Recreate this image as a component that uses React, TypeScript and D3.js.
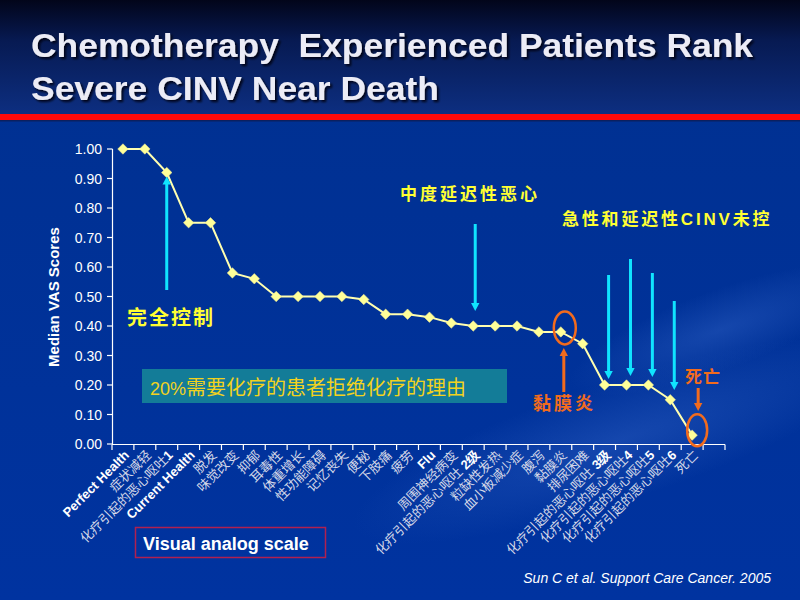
import React from "react";
import * as d3 from "d3";

const categories: string[] = [
  "Perfect Health", "症状减轻", "化疗引起的恶心呕吐1", "Current Health", "脱发", "味觉改变", "抑郁",
  "耳毒性", "体重增长", "性功能障碍", "记忆丧失", "便秘", "下肢痛", "疲劳", "Flu", "周围神经病变",
  "化疗引起的恶心呕吐 2级", "粒缺性发热", "血小板减少症", "腹泻", "黏膜炎", "排尿困难",
  "化疗引起的恶心呕吐 3级", "化疗引起的恶心呕吐4", "化疗引起的恶心呕吐5", "化疗引起的恶心呕吐6", "死亡", "",
];
const vasValues: number[] = [
  1.0, 1.0, 0.92, 0.75, 0.75, 0.58, 0.56, 0.5, 0.5, 0.5, 0.5, 0.49, 0.44, 0.44, 0.43, 0.41,
  0.4, 0.4, 0.4, 0.38, 0.38, 0.34, 0.2, 0.2, 0.2, 0.15, 0.03,
];
const yTicks: number[] = [0, 0.1, 0.2, 0.3, 0.4, 0.5, 0.6, 0.7, 0.8, 0.9, 1.0];

const CJK = "'Noto Sans CJK SC', 'Noto Sans', sans-serif";
const ARIAL = "'Liberation Sans', Arial, sans-serif";

function splitLabel(s: string): { cn: string; en: string } {
  const m = s.match(/^(.*?)([ A-Za-z0-9]+级?)$/);
  if (m && /[\u4e00-\u9fff]/.test(m[1])) return { cn: m[1], en: m[2] };
  return { cn: s, en: "" };
}

export default function App() {
  const W = 800, H = 600;
  const x = d3.scaleBand<number>().domain(d3.range(categories.length)).range([112, 725]).padding(0);
  const y = d3.scaleLinear().domain([0, 1]).range([444, 149]);
  const cx = (i: number) => (x(i) as number) + x.bandwidth() / 2;
  const line = d3.line<number>().x((_, i) => cx(i)).y((d) => y(d));
  const diamond = d3.symbol().type(d3.symbolDiamond2).size(70)();

  const cyan = "#10e4ff";
  const orange = "#f26b1d";
  const yellow = "#ffff33";

  const arrowDown = (ax: number, y1: number, y2: number, color: string, w = 3, head = 7) => (
    <g key={`ad${ax}-${y1}`}>
      <line x1={ax} x2={ax} y1={y1} y2={y2 - head} stroke={color} strokeWidth={w} />
      <path d={`M${ax - head * 0.6},${y2 - head - 1} L${ax + head * 0.6},${y2 - head - 1} L${ax},${y2} Z`} fill={color} />
    </g>
  );
  const arrowUp = (ax: number, y1: number, y2: number, color: string, w = 3, head = 7) => (
    <g key={`au${ax}-${y1}`}>
      <line x1={ax} x2={ax} y1={y1} y2={y2 + head} stroke={color} strokeWidth={w} />
      <path d={`M${ax - head * 0.6},${y2 + head + 1} L${ax + head * 0.6},${y2 + head + 1} L${ax},${y2} Z`} fill={color} />
    </g>
  );

  return (
    <div style={{ position: "fixed", left: 0, top: 0, width: W, height: H }}>
      <svg width={W} height={H} viewBox={`0 0 ${W} ${H}`} style={{ display: "block" }}>
        <defs>
          <linearGradient id="topbg" x1="0" y1="0" x2="0" y2="1">
            <stop offset="0" stopColor="#02051a" />
            <stop offset="0.35" stopColor="#071a52" />
            <stop offset="1" stopColor="#0d2f82" />
          </linearGradient>
          <linearGradient id="mainbg" x1="0" y1="0" x2="0" y2="1">
            <stop offset="0" stopColor="#00308f" />
            <stop offset="1" stopColor="#0033a0" />
          </linearGradient>
          <radialGradient id="swoosh" cx="0.5" cy="0.5" r="0.5">
            <stop offset="0" stopColor="#2a5cc0" stopOpacity="0.5" />
            <stop offset="1" stopColor="#2a5cc0" stopOpacity="0" />
          </radialGradient>
          <filter id="shadow" x="-5%" y="-20%" width="110%" height="140%">
            <feDropShadow dx="2" dy="2" stdDeviation="1" floodColor="#000010" floodOpacity="0.9" />
          </filter>
        </defs>

        {/* background */}
        <rect x={0} y={0} width={W} height={H} fill="url(#mainbg)" />
        <rect x={0} y={0} width={W} height={116} fill="url(#topbg)" />
        <ellipse cx={620} cy={440} rx={280} ry={60} fill="url(#swoosh)" transform="rotate(-18 620 440)" />
        <ellipse cx={720} cy={330} rx={160} ry={40} fill="url(#swoosh)" transform="rotate(-20 720 330)" />
        <rect x={0} y={114} width={W} height={6} fill="#ff0a0a" />
        <rect x={0} y={120} width={W} height={1.5} fill="#0a2060" />

        {/* title */}
        <g fontFamily={ARIAL} fontWeight="bold" fontSize={34} fill="#ececf6" filter="url(#shadow)">
          <text x={31} y={57} textLength={722} lengthAdjust="spacingAndGlyphs" xmlSpace="preserve" style={{ whiteSpace: "pre" }}>
            {"Chemotherapy  Experienced Patients Rank"}
          </text>
          <text x={31} y={100} textLength={408} lengthAdjust="spacingAndGlyphs">Severe CINV Near Death</text>
        </g>

        {/* y axis */}
        <line x1={112.5} x2={112.5} y1={y(1)} y2={y(0)} stroke="#ffffff" strokeWidth={1.2} />
        {yTicks.map((t) => (
          <g key={t}>
            <line x1={107} x2={112.5} y1={y(t)} y2={y(t)} stroke="#ffffff" strokeWidth={1.2} />
            <text x={102} y={y(t) + 5} textAnchor="end" fontFamily={ARIAL} fontSize={14} fill="#ffffff">
              {t.toFixed(2)}
            </text>
          </g>
        ))}
        <text
          transform={`translate(59,297) rotate(-90)`}
          textAnchor="middle"
          fontFamily={ARIAL}
          fontWeight="bold"
          fontSize={15}
          fill="#ffffff"
        >
          Median VAS Scores
        </text>

        {/* x axis */}
        <line x1={112} x2={725} y1={444.5} y2={444.5} stroke="#ffffff" strokeWidth={1.2} />
        {d3.range(categories.length + 1).map((i) => {
          const xx = 112 + i * x.bandwidth();
          return <line key={i} x1={xx} x2={xx} y1={444.5} y2={450} stroke="#ffffff" strokeWidth={1.2} />;
        })}
        {categories.map((c, i) => {
          if (!c) return null;
          const isEn = /^[A-Za-z ]+$/.test(c);
          const { cn, en } = splitLabel(c);
          return (
            <text
              key={i}
              transform={`translate(${cx(i) + 7},${456}) rotate(-45)`}
              textAnchor="end"
              fontFamily={isEn ? ARIAL : CJK}
              fontWeight={isEn ? "bold" : "normal"}
              fontSize={13}
              fill={isEn ? "#ffffff" : "#d4d8e8"}
            >
              {cn}
              {en && (
                <tspan fontFamily={ARIAL} fontWeight="bold" fill="#ffffff">
                  {en}
                </tspan>
              )}
            </text>
          );
        })}

        {/* data line */}
        <path d={line(vasValues) || ""} fill="none" stroke="#ffffb0" strokeWidth={2} />
        {vasValues.map((v, i) => (
          <path key={i} d={diamond || ""} transform={`translate(${cx(i)},${y(v)})`} fill="#ffff99" stroke="#f0e890" strokeWidth={0.5} />
        ))}

        {/* annotations */}
        {arrowUp(cx(2), 290, y(vasValues[2]) + 4, cyan)}
        <text x={127} y={325} fontFamily={CJK} fontWeight="bold" fontSize={20} fill={yellow} letterSpacing={2}>
          完全控制
        </text>

        <text x={400} y={200} fontFamily={CJK} fontWeight="bold" fontSize={17} fill={yellow} letterSpacing={3}>
          中度延迟性恶心
        </text>
        {arrowDown(cx(16) + 2, 224, 311, cyan)}

        <text x={562} y={225} fontFamily={CJK} fontWeight="bold" fontSize={17} fill={yellow} letterSpacing={2.8}>
          急性和延迟性<tspan fontFamily={ARIAL}>CINV</tspan>未控
        </text>
        {arrowDown(cx(22) + 4, 275, 379, cyan)}
        {arrowDown(cx(23) + 4, 259, 376, cyan)}
        {arrowDown(cx(24) + 4, 273, 377, cyan)}
        {arrowDown(cx(25) + 4, 301, 390, cyan)}

        <ellipse cx={cx(20) + 4} cy={y(vasValues[20]) - 4} rx={11} ry={16.5} fill="none" stroke={orange} strokeWidth={2.5} />
        {arrowUp(cx(20) + 3, 392, 348, orange)}
        <text x={533} y={410} fontFamily={CJK} fontWeight="bold" fontSize={18} fill={orange} letterSpacing={3}>
          黏膜炎
        </text>

        <ellipse cx={cx(26) + 5} cy={y(vasValues[26]) - 5} rx={10} ry={16} fill="none" stroke={orange} strokeWidth={2.5} />
        <text x={685} y={383} fontFamily={CJK} fontWeight="bold" fontSize={17} fill={orange} letterSpacing={1}>
          死亡
        </text>
        {arrowDown(cx(26) + 6, 388, 411, orange)}

        {/* reason box */}
        <rect x={142} y={369} width={365} height={34} fill="#137c98" />
        <text x={150} y={395} fontFamily={CJK} fontSize={20} fill="#f2d21e">
          <tspan fontFamily={ARIAL} fontSize={18}>20%</tspan>需要化疗的患者拒绝化疗的理由
        </text>

        {/* VAS box */}
        <rect x={135.5} y={527.5} width={190} height={30} fill="none" stroke="#b02050" strokeWidth={1.5} />
        <text x={143} y={550} fontFamily={ARIAL} fontWeight="bold" fontSize={18} fill="#ffffff">
          Visual analog scale
        </text>

        {/* source */}
        <text x={771} y={583} textAnchor="end" fontFamily={ARIAL} fontStyle="italic" fontSize={14} fill="#ffffff">
          Sun C et al. Support Care Cancer. 2005
        </text>
      </svg>
    </div>
  );
}
